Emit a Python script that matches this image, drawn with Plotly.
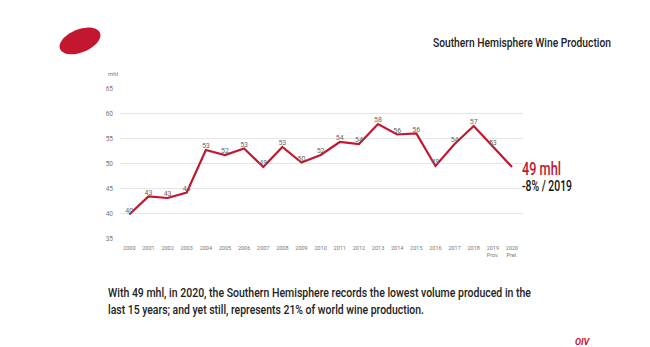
import math
import plotly.graph_objects as go

years = list(range(2000, 2021))
values = [39.8, 43.4, 43.1, 44.2, 52.7, 51.7, 53.0, 49.3, 53.3, 50.2, 51.7,
          54.3, 53.9, 57.9, 55.8, 56.0, 49.5, 53.9, 57.5, 53.4, 49.3]
labels = ["40", "43", "43", "44", "53", "52", "53", "49", "53", "50", "52",
          "54", "54", "58", "56", "56", "49", "54", "57", "53", ""]
tick_text = [str(y) for y in range(2000, 2019)] + ["2019<br>Prov.", "2020<br>Prel."]
y_ticks = [35, 40, 45, 50, 55, 60, 65]

RED = "#c3162f"
FONT = "Roboto, Liberation Sans, sans-serif"

fig = go.Figure()
fig.add_trace(go.Scatter(
    x=years, y=values, mode="lines+text", text=labels,
    textposition="top center",
    textfont=dict(size=7, color="#666", family=FONT),
    line=dict(color=RED, width=2.2),
    hoverinfo="skip", cliponaxis=False,
))

L, T, B = 120, 87.5, 238.8
W, H = 403, B - T

fig.update_layout(
    width=650, height=347,
    margin=dict(l=120, r=127, t=87.5, b=108.2),
    paper_bgcolor="white", plot_bgcolor="white",
    showlegend=False,
    xaxis=dict(range=[1999.514, 2020.576], tickvals=years, ticktext=tick_text,
               showgrid=False, zeroline=False, showline=False, ticks="",
               ticklabelstandoff=4,
               tickfont=dict(size=5.5, color="#777", family=FONT), tickangle=0),
    yaxis=dict(range=[34.9, 65.1], tickvals=y_ticks, showgrid=True,
               gridcolor="#e6e6e6", gridwidth=1, zeroline=False, showline=False,
               ticks="", ticklabelstandoff=6,
               tickfont=dict(size=6.5, color="#777", family=FONT)),
    font=dict(family=FONT),
)

# red logo ellipse (tilted), in paper coordinates
cx, cy, rx, ry, ang = 80, 40.3, 21.5, 11.5, math.radians(-22)
pts = []
for i in range(61):
    t = 2 * math.pi * i / 60
    px = cx + rx * math.cos(t) * math.cos(ang) - ry * math.sin(t) * math.sin(ang)
    py = cy + rx * math.cos(t) * math.sin(ang) + ry * math.sin(t) * math.cos(ang)
    pts.append(((px - L) / W, (B - py) / H))
path = "M " + " L ".join(f"{a:.5f},{b:.5f}" for a, b in pts) + " Z"
fig.add_shape(type="path", xref="paper", yref="paper", path=path,
              fillcolor=RED, line=dict(width=0))


def ann(text, x, y, size, color, xanchor="left", weight="normal", italic=False,
        width=None):
    fig.add_annotation(text=text, xref="paper", yref="paper",
                       x=(x - L) / W, y=(B - y) / H, align=xanchor,
                       xanchor=xanchor, yanchor="middle", showarrow=False,
                       width=width, borderpad=0,
                       font=dict(size=size, color=color, family=FONT,
                                 weight=weight,
                                 style="italic" if italic else "normal"))


TITLE = "Southern Hemisphere Wine Production"
LINE1 = "With 49 mhl, in 2020, the Southern Hemisphere records the lowest volume produced in the"
LINE2 = "last 15 years; and yet still, represents 21% of world wine production."

widths = {TITLE: 178, LINE1: 423, LINE2: 316, "49 mhl": 39, "-8% / 2019": 50}

ann(TITLE, 612, 41.5, 12.5, "#222", xanchor="right", weight=500, width=widths[TITLE])
ann("mhl", 107, 73, 6, "#777")
ann("49 mhl", 520.5, 168, 18, RED, weight=500, width=widths["49 mhl"])
ann("-8% / 2019", 520.5, 185.5, 14, "#111", weight=500, width=widths["-8% / 2019"])
ann(LINE1, 107, 292.5, 13, "#222", weight=500, width=widths[LINE1])
ann(LINE2, 107, 309.5, 13, "#222", weight=500, width=widths[LINE2])
ann("OIV", 583, 342.5, 9, RED, xanchor="center", weight="bold", italic=True)

# condensed look: squeeze long texts to the widths seen in the reference
post = """
var gd = document.getElementById('{plot_id}');
var widths = %s;
gd.querySelectorAll('text.annotation-text').forEach(function(t){
  var w = widths[t.textContent];
  if (w) { t.setAttribute('textLength', w); t.setAttribute('lengthAdjust', 'spacingAndGlyphs'); }
});
""" % ("{" + ",".join(f'"{k}": {v}' for k, v in widths.items()) + "}")

fig.write_html("out.html", post_script=post)
